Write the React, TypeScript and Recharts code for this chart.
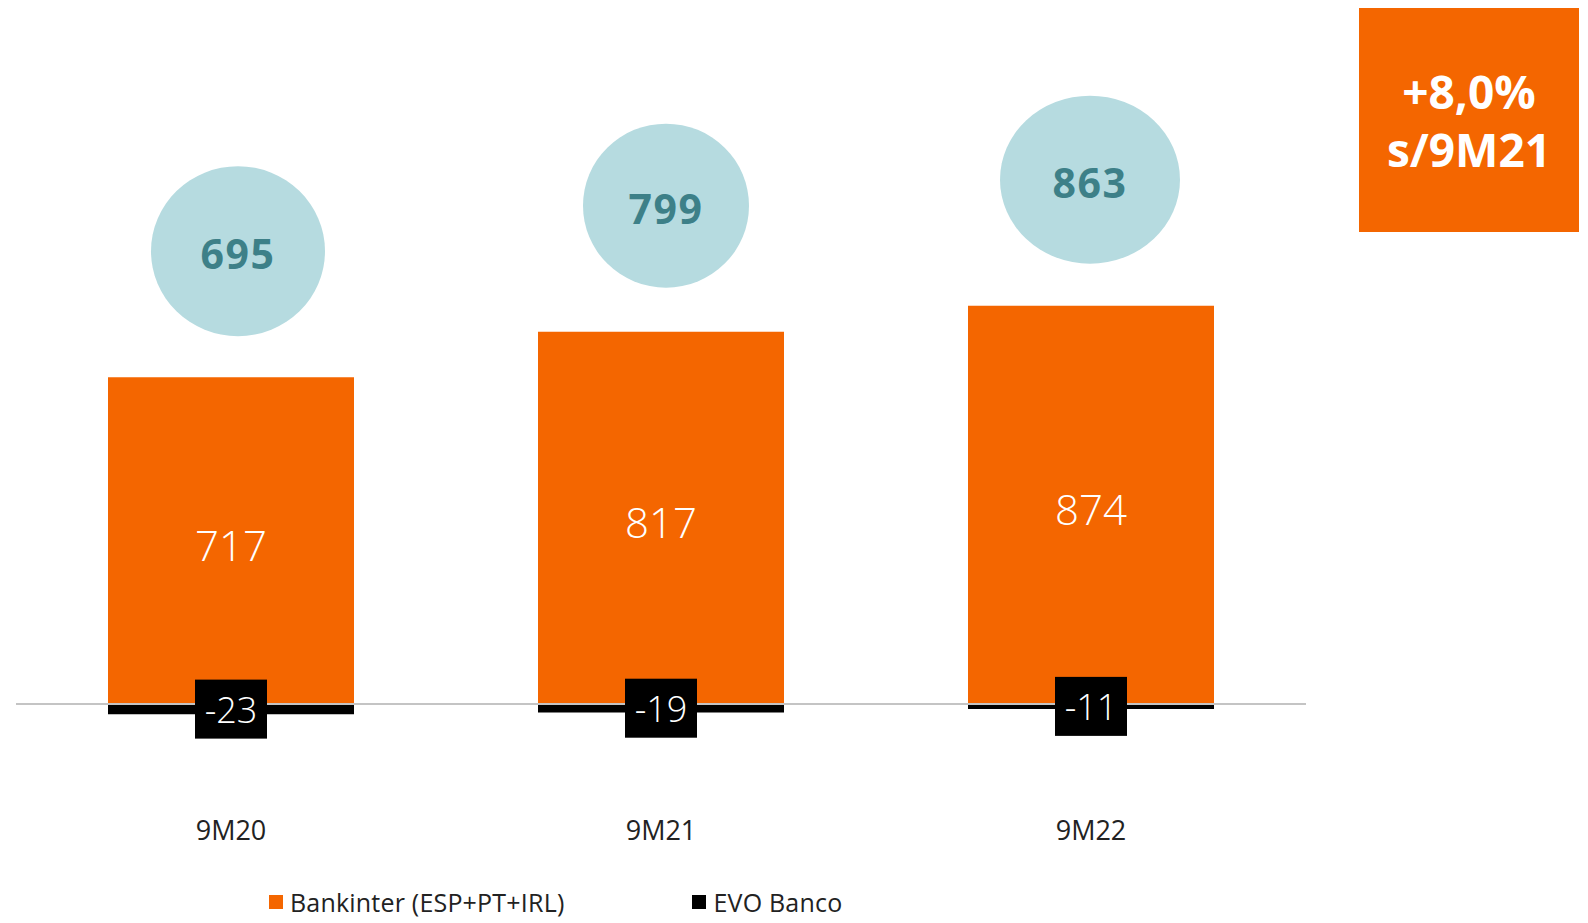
import { BarChart, Bar, XAxis, YAxis, LabelList, ReferenceLine } from "recharts";

const categories = ["9M20", "9M21", "9M22"];
const bankinter = [717, 817, 874];
const evo = [-23, -19, -11];
const totals = [695, 799, 863];

const ORANGE = "#f46600";
const BUBBLE = "#b6dbe0";
const BUBBLE_TEXT = "#3d8088";
const FONT = "'Open Sans', sans-serif";
// bubble shape per category: rx, ry, horizontal nudge
const BUBBLE_SHAPE = [
  [87, 85, 7],
  [83, 82, 5],
  [90, 84, -1],
];

const data = categories.map((c, i) => ({
  name: c,
  bankinter: bankinter[i],
  evo: evo[i],
  total: totals[i],
}));

function Bubble(props: any) {
  const { x, y, width, index } = props;
  const [rx, ry, dx] = BUBBLE_SHAPE[index];
  const cx = x + width / 2 + dx;
  const cy = y - 126;
  return (
    <g>
      <ellipse cx={cx} cy={cy} rx={rx} ry={ry} fill={BUBBLE} />
      <text
        x={cx}
        y={cy + 2}
        textAnchor="middle"
        dominantBaseline="central"
        fill={BUBBLE_TEXT}
        fontSize={41}
        fontWeight={700}
        letterSpacing={1.5}
        fontFamily={FONT}
      >
        {totals[index]}
      </text>
    </g>
  );
}

function MainLabel(props: any) {
  const { x, y, width, height, value } = props;
  return (
    <text
      x={x + width / 2}
      y={y + height / 2 + 4}
      textAnchor="middle"
      dominantBaseline="central"
      fill="#fff"
      fontSize={42}
      fontWeight={300}
      fontFamily={FONT}
    >
      {value}
    </text>
  );
}

function EvoLabel(props: any) {
  const { x, y, width, height, value } = props;
  const cx = x + width / 2;
  const cy = y + height / 2;
  return (
    <g>
      <rect x={cx - 36} y={cy - 29.5} width={72} height={59} fill="#000" />
      <text
        x={cx}
        y={cy}
        textAnchor="middle"
        dominantBaseline="central"
        fill="#fff"
        fontSize={36}
        fontWeight={300}
        fontFamily={FONT}
      >
        {value}
      </text>
    </g>
  );
}

export default function App() {
  return (
    <div style={{ position: "relative", width: 1588, height: 923, fontFamily: FONT }}>
      <style>{`body{margin:0}`}</style>
      <BarChart
        width={1588}
        height={923}
        data={data}
        stackOffset="sign"
        barCategoryGap={0}
        margin={{ top: 66, right: 282, bottom: 98, left: 16 }}
      >
        <XAxis
          dataKey="name"
          axisLine={false}
          tickLine={false}
          tickMargin={20}
          height={30}
          tick={{ fill: "#222", fontSize: 27, fontFamily: FONT }}
        />
        <YAxis hide domain={[-200, 1400]} />
        <ReferenceLine y={0} stroke="#c4c4c4" strokeWidth={2} />
        <Bar dataKey="bankinter" stackId="a" fill={ORANGE} barSize={246} isAnimationActive={false}>
          <LabelList dataKey="bankinter" content={<MainLabel />} />
          <LabelList dataKey="total" content={<Bubble />} />
        </Bar>
        <Bar dataKey="evo" stackId="a" fill="#000" barSize={246} isAnimationActive={false}>
          <LabelList dataKey="evo" content={<EvoLabel />} />
        </Bar>
      </BarChart>

      <div
        style={{
          position: "absolute",
          left: 1359,
          top: 8,
          width: 220,
          height: 224,
          background: ORANGE,
          color: "#fff",
          fontWeight: 700,
          fontSize: 46,
          lineHeight: "58px",
          display: "flex",
          flexDirection: "column",
          alignItems: "center",
          justifyContent: "center",
          textAlign: "center",
        }}
      >
        <div>+8,0%</div>
        <div>s/9M21</div>
      </div>

      <div
        style={{
          position: "absolute",
          left: 269,
          top: 885,
          display: "flex",
          alignItems: "center",
          gap: 128,
          fontSize: 25,
          letterSpacing: 0.2,
          color: "#222",
        }}
      >
        <div style={{ display: "flex", alignItems: "center", gap: 7 }}>
          <span style={{ width: 14, height: 14, background: ORANGE, display: "inline-block" }} />
          <span>Bankinter (ESP+PT+IRL)</span>
        </div>
        <div style={{ display: "flex", alignItems: "center", gap: 7 }}>
          <span style={{ width: 14, height: 14, background: "#000", display: "inline-block" }} />
          <span>EVO Banco</span>
        </div>
      </div>
    </div>
  );
}
